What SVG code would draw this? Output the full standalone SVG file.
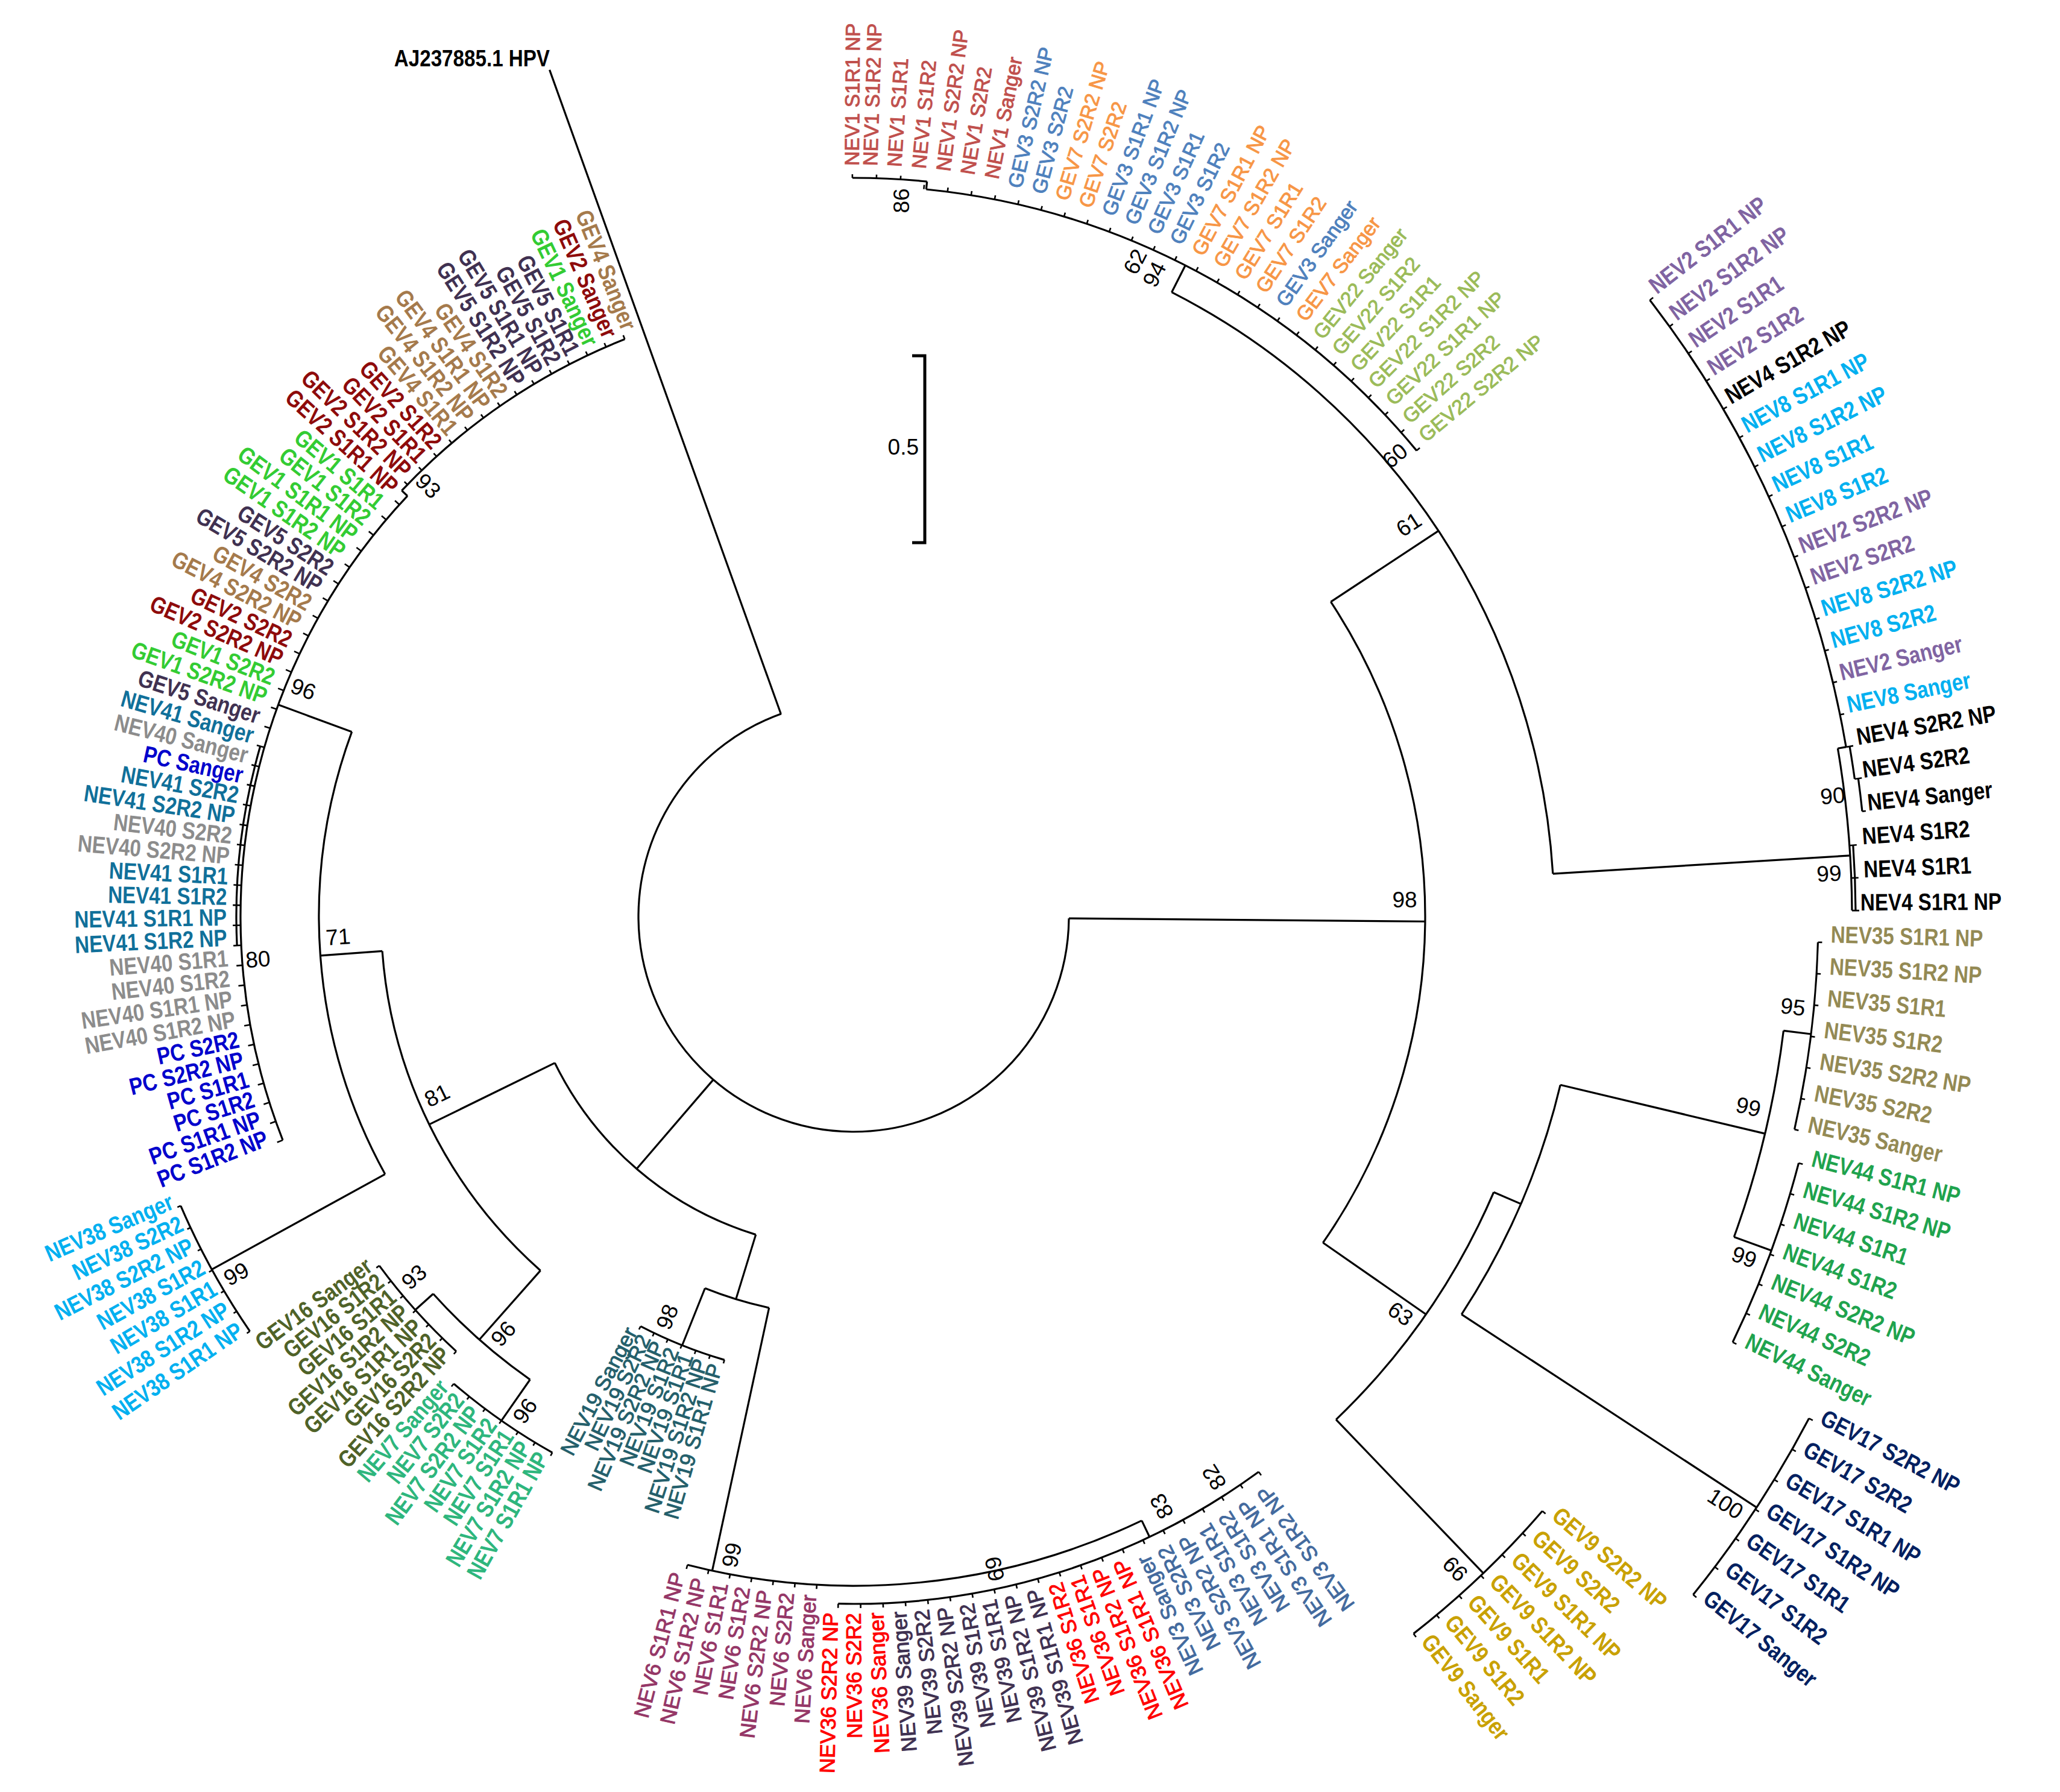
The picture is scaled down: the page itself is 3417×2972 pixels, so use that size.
<svg xmlns="http://www.w3.org/2000/svg" width="3417" height="2972" viewBox="0 0 3417 2972">
<style>
.e{fill:none;stroke:#000;stroke-width:3.2;stroke-linecap:butt}
.k line{stroke-width:2.6}
text{font-family:"Liberation Sans",Arial,sans-serif;fill:currentColor}
.b{font-weight:bold;font-size:39.5px}
.r{font-size:33.5px;stroke:currentColor;stroke-width:1px}
.q{font-size:35px;stroke:currentColor;stroke-width:1px}
.f{text-anchor:end}
.bs{font-size:37px;text-anchor:middle;dominant-baseline:central;fill:#000}
.NEV1{color:#C0504D}.GEV3{color:#4F81BD}.GEV7{color:#F79646}.GEV22{color:#9BBB59}
.NEV2{color:#8064A2}.NEV4{color:#000}.NEV8{color:#00B0F0}.NEV35{color:#948A54}
.NEV44{color:#1FA34E}.GEV17{color:#002060}.GEV9{color:#C9A100}.NEV3{color:#436A9E}
.NEV36{color:#FF0000}.NEV39{color:#3F3151}.NEV6{color:#953767}.NEV19{color:#245F6B}
.NEV7{color:#2EB67D}.GEV16{color:#4F6228}.NEV38{color:#00B0F0}.PC{color:#0000CC}
.NEV40{color:#8C8C8C}.NEV41{color:#10709A}.GEV5{color:#403151}.GEV1{color:#33CC33}
.GEV2{color:#8E0B0B}.GEV4{color:#A57A4C}
</style>
<rect width="3417" height="2972" fill="#fff"/>
<g transform="translate(1416 1520)">
<g id="connectors" class="e">
<circle r="357" stroke-dasharray="1556.1 20000" transform="rotate(0.5)"/>
<circle r="948" stroke-dasharray="1128.4 20000" transform="rotate(-33.4)"/>
<circle r="1162" stroke-dasharray="1206.7 20000" transform="rotate(-63)"/>
<circle r="1212" stroke-dasharray="945.4 20000" transform="rotate(-84.3)"/>
<circle r="1225" stroke-dasharray="124 20000" transform="rotate(-90.1)"/>
<circle r="1656" stroke-dasharray="270.2 20000" transform="rotate(-9.69)"/>
<circle r="1670" stroke-dasharray="817.6 20000" transform="rotate(-37.74)"/>
<circle r="1676" stroke-dasharray="54.7 20000" transform="rotate(-9.69)"/>
<circle r="1682" stroke-dasharray="54.9 20000" transform="rotate(-7.82)"/>
<circle r="1662" stroke-dasharray="108.5 20000" transform="rotate(-4.08)"/>
<circle r="1156" stroke-dasharray="462 20000" transform="rotate(23.3)"/>
<circle r="1205" stroke-dasharray="416.4 20000" transform="rotate(13.4)"/>
<circle r="1554" stroke-dasharray="352.6 20000" transform="rotate(7)"/>
<circle r="1600" stroke-dasharray="313.3 20000" transform="rotate(1.53)"/>
<circle r="1620" stroke-dasharray="317.2 20000" transform="rotate(14.62)"/>
<circle r="1790" stroke-dasharray="350.5 20000" transform="rotate(27.71)"/>
<circle r="1509" stroke-dasharray="295.5 20000" transform="rotate(40.8)"/>
<circle r="552" stroke-dasharray="450.9 20000" transform="rotate(107.1)"/>
<circle r="664" stroke-dasharray="111.3 20000" transform="rotate(102.2)"/>
<circle r="766" stroke-dasharray="150 20000" transform="rotate(106.25)"/>
<circle r="1110" stroke-dasharray="772.6 20000" transform="rotate(64.5)"/>
<circle r="1140" stroke-dasharray="744.1 20000" transform="rotate(53.89)"/>
<circle r="784" stroke-dasharray="606.2 20000" transform="rotate(131.5)"/>
<circle r="887" stroke-dasharray="758.6 20000" transform="rotate(151.2)"/>
<circle r="1215" stroke-dasharray="237.9 20000" transform="rotate(145.52)"/>
<circle r="1017" stroke-dasharray="1148.2 20000" transform="rotate(158.61)"/>
<circle r="1030" stroke-dasharray="450.7 20000" transform="rotate(223.3)"/>
<circle r="1024" stroke-dasharray="334.2 20000" transform="rotate(177.31)"/>
<circle r="937" stroke-dasharray="215.1 20000" transform="rotate(124.95)"/>
<circle r="977" stroke-dasharray="191.3 20000" transform="rotate(132.43)"/>
<circle r="1020" stroke-dasharray="199.7 20000" transform="rotate(119.34)"/>
<line x1="357" x2="1492" transform="rotate(250.24)"/>
<line x1="357" x2="948" transform="rotate(0.5)"/>
<line x1="357" x2="552" transform="rotate(130.7)"/>
<line x1="948" x2="1162" transform="rotate(-33.4)"/>
<line x1="1162" x2="1212" transform="rotate(-63)"/>
<line x1="1212" x2="1225" transform="rotate(-84.3)"/>
<line x1="1162" x2="1656" transform="rotate(-3.5)"/>
<line x1="1656" x2="1670" transform="rotate(-9.69)"/>
<line x1="948" x2="1156" transform="rotate(34.8)"/>
<line x1="1156" x2="1205" transform="rotate(23.3)"/>
<line x1="1205" x2="1554" transform="rotate(13.4)"/>
<line x1="1554" x2="1600" transform="rotate(7)"/>
<line x1="1554" x2="1620" transform="rotate(20)"/>
<line x1="1205" x2="1790" transform="rotate(33.2)"/>
<line x1="1156" x2="1509" transform="rotate(46.2)"/>
<line x1="552" x2="664" transform="rotate(107.1)"/>
<line x1="664" x2="766" transform="rotate(111.8)"/>
<line x1="664" x2="1110" transform="rotate(102.2)"/>
<line x1="1110" x2="1140" transform="rotate(64.5)"/>
<line x1="552" x2="784" transform="rotate(153.9)"/>
<line x1="784" x2="887" transform="rotate(175.8)"/>
<line x1="887" x2="1215" transform="rotate(151.2)"/>
<line x1="887" x2="1017" transform="rotate(200.2)"/>
<line x1="1017" x2="1030" transform="rotate(223.3)"/>
<line x1="784" x2="937" transform="rotate(131.5)"/>
<line x1="937" x2="977" transform="rotate(138.1)"/>
<line x1="937" x2="1020" transform="rotate(124.95)"/>
<g class="k">
<line x1="1225" x2="1231" transform="rotate(-90.1)"/><line x1="1225" x2="1231" transform="rotate(-88.23)"/><line x1="1225" x2="1231" transform="rotate(-86.36)"/>
<line x1="1212" x2="1219" transform="rotate(-84.49)"/><line x1="1212" x2="1219" transform="rotate(-82.62)"/><line x1="1212" x2="1219" transform="rotate(-80.75)"/><line x1="1212" x2="1219" transform="rotate(-78.88)"/><line x1="1212" x2="1219" transform="rotate(-77.01)"/><line x1="1212" x2="1219" transform="rotate(-75.14)"/><line x1="1212" x2="1219" transform="rotate(-73.27)"/><line x1="1212" x2="1219" transform="rotate(-71.4)"/><line x1="1212" x2="1219" transform="rotate(-69.53)"/><line x1="1212" x2="1219" transform="rotate(-67.66)"/><line x1="1212" x2="1219" transform="rotate(-65.79)"/><line x1="1212" x2="1219" transform="rotate(-63.92)"/><line x1="1212" x2="1219" transform="rotate(-62.05)"/><line x1="1212" x2="1219" transform="rotate(-60.18)"/><line x1="1212" x2="1219" transform="rotate(-58.31)"/><line x1="1212" x2="1219" transform="rotate(-56.44)"/><line x1="1212" x2="1219" transform="rotate(-54.57)"/><line x1="1212" x2="1219" transform="rotate(-52.7)"/><line x1="1212" x2="1219" transform="rotate(-50.83)"/><line x1="1212" x2="1219" transform="rotate(-48.96)"/><line x1="1212" x2="1219" transform="rotate(-47.09)"/><line x1="1212" x2="1219" transform="rotate(-45.22)"/><line x1="1212" x2="1219" transform="rotate(-43.35)"/><line x1="1212" x2="1219" transform="rotate(-41.48)"/><line x1="1212" x2="1219" transform="rotate(-39.61)"/>
<line x1="1670" x2="1677" transform="rotate(-37.74)"/><line x1="1670" x2="1677" transform="rotate(-35.87)"/><line x1="1670" x2="1677" transform="rotate(-34)"/><line x1="1670" x2="1677" transform="rotate(-32.13)"/><line x1="1670" x2="1677" transform="rotate(-30.26)"/><line x1="1670" x2="1677" transform="rotate(-28.39)"/><line x1="1670" x2="1677" transform="rotate(-26.52)"/><line x1="1670" x2="1677" transform="rotate(-24.65)"/><line x1="1670" x2="1677" transform="rotate(-22.78)"/><line x1="1670" x2="1677" transform="rotate(-20.91)"/><line x1="1670" x2="1677" transform="rotate(-19.04)"/><line x1="1670" x2="1677" transform="rotate(-17.17)"/><line x1="1670" x2="1677" transform="rotate(-15.3)"/><line x1="1670" x2="1677" transform="rotate(-13.43)"/><line x1="1670" x2="1677" transform="rotate(-11.56)"/>
<line x1="1670" x2="1682" transform="rotate(-9.69)"/><line x1="1676" x2="1688" transform="rotate(-7.82)"/><line x1="1682" x2="1688" transform="rotate(-5.95)"/><line x1="1656" x2="1668" transform="rotate(-4.08)"/><line x1="1656" x2="1668" transform="rotate(-2.21)"/><line x1="1656" x2="1668" transform="rotate(-0.34)"/>
<line x1="1600" x2="1607" transform="rotate(1.53)"/><line x1="1600" x2="1607" transform="rotate(3.4)"/><line x1="1600" x2="1607" transform="rotate(5.27)"/><line x1="1600" x2="1607" transform="rotate(7.14)"/><line x1="1600" x2="1607" transform="rotate(9.01)"/><line x1="1600" x2="1607" transform="rotate(10.88)"/><line x1="1600" x2="1607" transform="rotate(12.75)"/>
<line x1="1620" x2="1627" transform="rotate(14.62)"/><line x1="1620" x2="1627" transform="rotate(16.49)"/><line x1="1620" x2="1627" transform="rotate(18.36)"/><line x1="1620" x2="1627" transform="rotate(20.23)"/><line x1="1620" x2="1627" transform="rotate(22.1)"/><line x1="1620" x2="1627" transform="rotate(23.97)"/><line x1="1620" x2="1627" transform="rotate(25.84)"/>
<line x1="1790" x2="1797" transform="rotate(27.71)"/><line x1="1790" x2="1797" transform="rotate(29.58)"/><line x1="1790" x2="1797" transform="rotate(31.45)"/><line x1="1790" x2="1797" transform="rotate(33.32)"/><line x1="1790" x2="1797" transform="rotate(35.19)"/><line x1="1790" x2="1797" transform="rotate(37.06)"/><line x1="1790" x2="1797" transform="rotate(38.93)"/>
<line x1="1509" x2="1516" transform="rotate(40.8)"/><line x1="1509" x2="1516" transform="rotate(42.67)"/><line x1="1509" x2="1516" transform="rotate(44.54)"/><line x1="1509" x2="1516" transform="rotate(46.41)"/><line x1="1509" x2="1516" transform="rotate(48.28)"/><line x1="1509" x2="1516" transform="rotate(50.15)"/><line x1="1509" x2="1516" transform="rotate(52.02)"/>
<line x1="1140" x2="1147" transform="rotate(53.89)"/><line x1="1140" x2="1147" transform="rotate(55.76)"/><line x1="1140" x2="1147" transform="rotate(57.63)"/><line x1="1140" x2="1147" transform="rotate(59.5)"/><line x1="1140" x2="1147" transform="rotate(61.37)"/><line x1="1140" x2="1147" transform="rotate(63.24)"/><line x1="1140" x2="1147" transform="rotate(65.11)"/><line x1="1140" x2="1147" transform="rotate(66.98)"/><line x1="1140" x2="1147" transform="rotate(68.85)"/><line x1="1140" x2="1147" transform="rotate(70.72)"/><line x1="1140" x2="1147" transform="rotate(72.59)"/><line x1="1140" x2="1147" transform="rotate(74.46)"/><line x1="1140" x2="1147" transform="rotate(76.33)"/><line x1="1140" x2="1147" transform="rotate(78.2)"/><line x1="1140" x2="1147" transform="rotate(80.07)"/><line x1="1140" x2="1147" transform="rotate(81.94)"/><line x1="1140" x2="1147" transform="rotate(83.81)"/><line x1="1140" x2="1147" transform="rotate(85.68)"/><line x1="1140" x2="1147" transform="rotate(87.55)"/><line x1="1140" x2="1147" transform="rotate(89.42)"/><line x1="1140" x2="1147" transform="rotate(91.29)"/>
<line x1="1110" x2="1117" transform="rotate(93.16)"/><line x1="1110" x2="1117" transform="rotate(95.03)"/><line x1="1110" x2="1117" transform="rotate(96.9)"/><line x1="1110" x2="1117" transform="rotate(98.77)"/><line x1="1110" x2="1117" transform="rotate(100.64)"/><line x1="1110" x2="1117" transform="rotate(102.51)"/><line x1="1110" x2="1117" transform="rotate(104.38)"/>
<line x1="766" x2="772" transform="rotate(106.25)"/><line x1="766" x2="772" transform="rotate(108.12)"/><line x1="766" x2="772" transform="rotate(109.99)"/><line x1="766" x2="772" transform="rotate(111.86)"/><line x1="766" x2="772" transform="rotate(113.73)"/><line x1="766" x2="772" transform="rotate(115.6)"/><line x1="766" x2="772" transform="rotate(117.47)"/>
<line x1="1020" x2="1026" transform="rotate(119.34)"/><line x1="1020" x2="1026" transform="rotate(121.21)"/><line x1="1020" x2="1026" transform="rotate(123.08)"/><line x1="1020" x2="1026" transform="rotate(124.95)"/><line x1="1020" x2="1026" transform="rotate(126.82)"/><line x1="1020" x2="1026" transform="rotate(128.69)"/><line x1="1020" x2="1026" transform="rotate(130.56)"/>
<line x1="977" x2="983" transform="rotate(132.43)"/><line x1="977" x2="983" transform="rotate(134.3)"/><line x1="977" x2="983" transform="rotate(136.17)"/><line x1="977" x2="983" transform="rotate(138.04)"/><line x1="977" x2="983" transform="rotate(139.91)"/><line x1="977" x2="983" transform="rotate(141.78)"/><line x1="977" x2="983" transform="rotate(143.65)"/>
<line x1="1215" x2="1221" transform="rotate(145.52)"/><line x1="1215" x2="1221" transform="rotate(147.39)"/><line x1="1215" x2="1221" transform="rotate(149.26)"/><line x1="1215" x2="1221" transform="rotate(151.13)"/><line x1="1215" x2="1221" transform="rotate(153)"/><line x1="1215" x2="1221" transform="rotate(154.87)"/><line x1="1215" x2="1221" transform="rotate(156.74)"/>
<line x1="1017" x2="1027" transform="rotate(158.61)"/><line x1="1017" x2="1027" transform="rotate(160.48)"/><line x1="1017" x2="1027" transform="rotate(162.35)"/><line x1="1017" x2="1027" transform="rotate(164.22)"/><line x1="1017" x2="1027" transform="rotate(166.09)"/><line x1="1017" x2="1027" transform="rotate(167.96)"/><line x1="1017" x2="1027" transform="rotate(169.83)"/><line x1="1017" x2="1027" transform="rotate(171.7)"/><line x1="1017" x2="1027" transform="rotate(173.57)"/><line x1="1017" x2="1027" transform="rotate(175.44)"/><line x1="1017" x2="1030" transform="rotate(177.31)"/><line x1="1017" x2="1030" transform="rotate(179.18)"/><line x1="1017" x2="1030" transform="rotate(181.05)"/><line x1="1017" x2="1030" transform="rotate(182.92)"/><line x1="1017" x2="1030" transform="rotate(184.79)"/><line x1="1017" x2="1030" transform="rotate(186.66)"/><line x1="1017" x2="1030" transform="rotate(188.53)"/><line x1="1017" x2="1030" transform="rotate(190.4)"/><line x1="1017" x2="1030" transform="rotate(192.27)"/><line x1="1017" x2="1030" transform="rotate(194.14)"/><line x1="1017" x2="1030" transform="rotate(196.01)"/><line x1="1017" x2="1027" transform="rotate(197.88)"/><line x1="1017" x2="1027" transform="rotate(199.75)"/><line x1="1017" x2="1027" transform="rotate(201.62)"/><line x1="1017" x2="1027" transform="rotate(203.49)"/><line x1="1017" x2="1027" transform="rotate(205.36)"/><line x1="1017" x2="1027" transform="rotate(207.23)"/><line x1="1017" x2="1027" transform="rotate(209.1)"/><line x1="1017" x2="1027" transform="rotate(210.97)"/><line x1="1017" x2="1027" transform="rotate(212.84)"/><line x1="1017" x2="1027" transform="rotate(214.71)"/><line x1="1017" x2="1027" transform="rotate(216.58)"/><line x1="1017" x2="1027" transform="rotate(218.45)"/><line x1="1017" x2="1027" transform="rotate(220.32)"/><line x1="1017" x2="1027" transform="rotate(222.19)"/><line x1="1030" x2="1037" transform="rotate(224.06)"/><line x1="1030" x2="1037" transform="rotate(225.93)"/><line x1="1030" x2="1037" transform="rotate(227.8)"/><line x1="1030" x2="1037" transform="rotate(229.67)"/><line x1="1030" x2="1037" transform="rotate(231.54)"/><line x1="1030" x2="1037" transform="rotate(233.41)"/><line x1="1030" x2="1037" transform="rotate(235.28)"/><line x1="1030" x2="1037" transform="rotate(237.15)"/><line x1="1030" x2="1037" transform="rotate(239.02)"/><line x1="1030" x2="1037" transform="rotate(240.89)"/><line x1="1030" x2="1037" transform="rotate(242.76)"/><line x1="1030" x2="1037" transform="rotate(244.63)"/><line x1="1030" x2="1037" transform="rotate(246.5)"/><line x1="1030" x2="1037" transform="rotate(248.37)"/>
</g>
</g>
<g id="leaves">
<g id="NEV1_S1R1_NP"><text class="r NEV1" transform="rotate(-89.6) translate(1245 0)">NEV1 S1R1 NP</text></g>
<g id="NEV1_S1R2_NP"><text class="r NEV1" transform="rotate(-88.2) translate(1245 0)">NEV1 S1R2 NP</text></g>
<g id="NEV1_S1R1"><text class="r NEV1" transform="rotate(-86.36) translate(1245 0)">NEV1 S1R1</text></g>
<g id="NEV1_S1R2"><text class="r NEV1" transform="rotate(-84.49) translate(1245 0)">NEV1 S1R2</text></g>
<g id="NEV1_S2R2_NP"><text class="r NEV1" transform="rotate(-82.62) translate(1245 0)">NEV1 S2R2 NP</text></g>
<g id="NEV1_S2R2"><text class="r NEV1" transform="rotate(-80.75) translate(1245 0)">NEV1 S2R2</text></g>
<g id="NEV1_Sanger"><text class="r NEV1" transform="rotate(-78.88) translate(1245 0)">NEV1 Sanger</text></g>
<g id="GEV3_S2R2_NP"><text class="r GEV3" transform="rotate(-77.01) translate(1238 0)">GEV3 S2R2 NP</text></g>
<g id="GEV3_S2R2"><text class="r GEV3" transform="rotate(-75.14) translate(1238 0)">GEV3 S2R2</text></g>
<g id="GEV7_S2R2_NP"><text class="r GEV7" transform="rotate(-73.27) translate(1238 0)">GEV7 S2R2 NP</text></g>
<g id="GEV7_S2R2"><text class="r GEV7" transform="rotate(-71.4) translate(1238 0)">GEV7 S2R2</text></g>
<g id="GEV3_S1R1_NP"><text class="r GEV3" transform="rotate(-69.53) translate(1238 0)">GEV3 S1R1 NP</text></g>
<g id="GEV3_S1R2_NP"><text class="r GEV3" transform="rotate(-67.66) translate(1238 0)">GEV3 S1R2 NP</text></g>
<g id="GEV3_S1R1"><text class="r GEV3" transform="rotate(-65.79) translate(1238 0)">GEV3 S1R1</text></g>
<g id="GEV3_S1R2"><text class="r GEV3" transform="rotate(-63.92) translate(1238 0)">GEV3 S1R2</text></g>
<g id="GEV7_S1R1_NP"><text class="r GEV7" transform="rotate(-62.05) translate(1238 0)">GEV7 S1R1 NP</text></g>
<g id="GEV7_S1R2_NP"><text class="r GEV7" transform="rotate(-60.18) translate(1238 0)">GEV7 S1R2 NP</text></g>
<g id="GEV7_S1R1"><text class="r GEV7" transform="rotate(-58.31) translate(1238 0)">GEV7 S1R1</text></g>
<g id="GEV7_S1R2"><text class="r GEV7" transform="rotate(-56.44) translate(1238 0)">GEV7 S1R2</text></g>
<g id="GEV3_Sanger"><text class="r GEV3" transform="rotate(-54.57) translate(1238 0)">GEV3 Sanger</text></g>
<g id="GEV7_Sanger"><text class="r GEV7" transform="rotate(-52.7) translate(1238 0)">GEV7 Sanger</text></g>
<g id="GEV22_Sanger"><text class="r GEV22" transform="rotate(-50.83) translate(1232 0)">GEV22 Sanger</text></g>
<g id="GEV22_S1R2"><text class="r GEV22" transform="rotate(-48.96) translate(1232 0)">GEV22 S1R2</text></g>
<g id="GEV22_S1R1"><text class="r GEV22" transform="rotate(-47.09) translate(1232 0)">GEV22 S1R1</text></g>
<g id="GEV22_S1R2_NP"><text class="r GEV22" transform="rotate(-45.22) translate(1232 0)">GEV22 S1R2 NP</text></g>
<g id="GEV22_S1R1_NP"><text class="r GEV22" transform="rotate(-43.35) translate(1232 0)">GEV22 S1R1 NP</text></g>
<g id="GEV22_S2R2"><text class="r GEV22" transform="rotate(-41.48) translate(1232 0)">GEV22 S2R2</text></g>
<g id="GEV22_S2R2_NP"><text class="r GEV22" transform="rotate(-39.61) translate(1232 0)">GEV22 S2R2 NP</text></g>
<g id="NEV2_S1R1_NP"><text class="b NEV2" transform="rotate(-37.74) translate(1685 0) scale(.84 1)">NEV2 S1R1 NP</text></g>
<g id="NEV2_S1R2_NP"><text class="b NEV2" transform="rotate(-35.87) translate(1685 0) scale(.84 1)">NEV2 S1R2 NP</text></g>
<g id="NEV2_S1R1"><text class="b NEV2" transform="rotate(-34) translate(1685 0) scale(.84 1)">NEV2 S1R1</text></g>
<g id="NEV2_S1R2"><text class="b NEV2" transform="rotate(-32.13) translate(1685 0) scale(.84 1)">NEV2 S1R2</text></g>
<g id="NEV4_S1R2_NP"><text class="b NEV4" transform="rotate(-30.26) translate(1685 0) scale(.84 1)">NEV4 S1R2 NP</text></g>
<g id="NEV8_S1R1_NP"><text class="b NEV8" transform="rotate(-28.39) translate(1685 0) scale(.84 1)">NEV8 S1R1 NP</text></g>
<g id="NEV8_S1R2_NP"><text class="b NEV8" transform="rotate(-26.52) translate(1685 0) scale(.84 1)">NEV8 S1R2 NP</text></g>
<g id="NEV8_S1R1"><text class="b NEV8" transform="rotate(-24.65) translate(1685 0) scale(.84 1)">NEV8 S1R1</text></g>
<g id="NEV8_S1R2"><text class="b NEV8" transform="rotate(-22.78) translate(1685 0) scale(.84 1)">NEV8 S1R2</text></g>
<g id="NEV2_S2R2_NP"><text class="b NEV2" transform="rotate(-20.91) translate(1685 0) scale(.84 1)">NEV2 S2R2 NP</text></g>
<g id="NEV2_S2R2"><text class="b NEV2" transform="rotate(-19.04) translate(1685 0) scale(.84 1)">NEV2 S2R2</text></g>
<g id="NEV8_S2R2_NP"><text class="b NEV8" transform="rotate(-17.17) translate(1685 0) scale(.84 1)">NEV8 S2R2 NP</text></g>
<g id="NEV8_S2R2"><text class="b NEV8" transform="rotate(-15.3) translate(1685 0) scale(.84 1)">NEV8 S2R2</text></g>
<g id="NEV2_Sanger"><text class="b NEV2" transform="rotate(-13.43) translate(1685 0) scale(.84 1)">NEV2 Sanger</text></g>
<g id="NEV8_Sanger"><text class="b NEV8" transform="rotate(-11.56) translate(1685 0) scale(.84 1)">NEV8 Sanger</text></g>
<g id="NEV4_S2R2_NP"><text class="b NEV4" transform="rotate(-9.69) translate(1690 0) scale(.84 1)">NEV4 S2R2 NP</text></g>
<g id="NEV4_S2R2"><text class="b NEV4" transform="rotate(-7.82) translate(1691 0) scale(.84 1)">NEV4 S2R2</text></g>
<g id="NEV4_Sanger"><text class="b NEV4" transform="rotate(-5.95) translate(1692 0) scale(.84 1)">NEV4 Sanger</text></g>
<g id="NEV4_S1R2"><text class="b NEV4" transform="rotate(-4.08) translate(1678 0) scale(.84 1)">NEV4 S1R2</text></g>
<g id="NEV4_S1R1"><text class="b NEV4" transform="rotate(-2.21) translate(1677 0) scale(.84 1)">NEV4 S1R1</text></g>
<g id="NEV4_S1R1_NP"><text class="b NEV4" transform="rotate(-0.34) translate(1670 0) scale(.84 1)">NEV4 S1R1 NP</text></g>
<g id="NEV35_S1R1_NP"><text class="b NEV35" transform="rotate(1.53) translate(1621 0) scale(.84 1)">NEV35 S1R1 NP</text></g>
<g id="NEV35_S1R2_NP"><text class="b NEV35" transform="rotate(3.4) translate(1621 0) scale(.84 1)">NEV35 S1R2 NP</text></g>
<g id="NEV35_S1R1"><text class="b NEV35" transform="rotate(5.27) translate(1621 0) scale(.84 1)">NEV35 S1R1</text></g>
<g id="NEV35_S1R2"><text class="b NEV35" transform="rotate(7.14) translate(1621 0) scale(.84 1)">NEV35 S1R2</text></g>
<g id="NEV35_S2R2_NP"><text class="b NEV35" transform="rotate(9.01) translate(1621 0) scale(.84 1)">NEV35 S2R2 NP</text></g>
<g id="NEV35_S2R2"><text class="b NEV35" transform="rotate(10.88) translate(1621 0) scale(.84 1)">NEV35 S2R2</text></g>
<g id="NEV35_Sanger"><text class="b NEV35" transform="rotate(12.75) translate(1621 0) scale(.84 1)">NEV35 Sanger</text></g>
<g id="NEV44_S1R1_NP"><text class="b NEV44" transform="rotate(14.62) translate(1640 0) scale(.84 1)">NEV44 S1R1 NP</text></g>
<g id="NEV44_S1R2_NP"><text class="b NEV44" transform="rotate(16.49) translate(1640 0) scale(.84 1)">NEV44 S1R2 NP</text></g>
<g id="NEV44_S1R1"><text class="b NEV44" transform="rotate(18.36) translate(1640 0) scale(.84 1)">NEV44 S1R1</text></g>
<g id="NEV44_S1R2"><text class="b NEV44" transform="rotate(20.23) translate(1640 0) scale(.84 1)">NEV44 S1R2</text></g>
<g id="NEV44_S2R2_NP"><text class="b NEV44" transform="rotate(22.1) translate(1640 0) scale(.84 1)">NEV44 S2R2 NP</text></g>
<g id="NEV44_S2R2"><text class="b NEV44" transform="rotate(23.97) translate(1640 0) scale(.84 1)">NEV44 S2R2</text></g>
<g id="NEV44_Sanger"><text class="b NEV44" transform="rotate(25.84) translate(1640 0) scale(.84 1)">NEV44 Sanger</text></g>
<g id="GEV17_S2R2_NP"><text class="b GEV17" transform="rotate(27.71) translate(1808 0) scale(.84 1)">GEV17 S2R2 NP</text></g>
<g id="GEV17_S2R2"><text class="b GEV17" transform="rotate(29.58) translate(1808 0) scale(.84 1)">GEV17 S2R2</text></g>
<g id="GEV17_S1R1_NP"><text class="b GEV17" transform="rotate(31.45) translate(1808 0) scale(.84 1)">GEV17 S1R1 NP</text></g>
<g id="GEV17_S1R2_NP"><text class="b GEV17" transform="rotate(33.32) translate(1808 0) scale(.84 1)">GEV17 S1R2 NP</text></g>
<g id="GEV17_S1R1"><text class="b GEV17" transform="rotate(35.19) translate(1808 0) scale(.84 1)">GEV17 S1R1</text></g>
<g id="GEV17_S1R2"><text class="b GEV17" transform="rotate(37.06) translate(1808 0) scale(.84 1)">GEV17 S1R2</text></g>
<g id="GEV17_Sanger"><text class="b GEV17" transform="rotate(38.93) translate(1808 0) scale(.84 1)">GEV17 Sanger</text></g>
<g id="GEV9_S2R2_NP"><text class="b GEV9" transform="rotate(40.8) translate(1527 0) scale(.84 1)">GEV9 S2R2 NP</text></g>
<g id="GEV9_S2R2"><text class="b GEV9" transform="rotate(42.67) translate(1527 0) scale(.84 1)">GEV9 S2R2</text></g>
<g id="GEV9_S1R1_NP"><text class="b GEV9" transform="rotate(44.54) translate(1527 0) scale(.84 1)">GEV9 S1R1 NP</text></g>
<g id="GEV9_S1R2_NP"><text class="b GEV9" transform="rotate(46.41) translate(1527 0) scale(.84 1)">GEV9 S1R2 NP</text></g>
<g id="GEV9_S1R1"><text class="b GEV9" transform="rotate(48.28) translate(1527 0) scale(.84 1)">GEV9 S1R1</text></g>
<g id="GEV9_S1R2"><text class="b GEV9" transform="rotate(50.15) translate(1527 0) scale(.84 1)">GEV9 S1R2</text></g>
<g id="GEV9_Sanger"><text class="b GEV9" transform="rotate(52.02) translate(1527 0) scale(.84 1)">GEV9 Sanger</text></g>
<g id="NEV3_S1R2_NP"><text class="q f NEV3" transform="rotate(-126.11) translate(-1165 0)">NEV3 S1R2 NP</text></g>
<g id="NEV3_S1R1_NP"><text class="q f NEV3" transform="rotate(-124.24) translate(-1165 0)">NEV3 S1R1 NP</text></g>
<g id="NEV3_S1R2"><text class="q f NEV3" transform="rotate(-122.37) translate(-1165 0)">NEV3 S1R2</text></g>
<g id="NEV3_S1R1"><text class="q f NEV3" transform="rotate(-120.5) translate(-1165 0)">NEV3 S1R1</text></g>
<g id="NEV3_S2R2_NP"><text class="q f NEV3" transform="rotate(-118.63) translate(-1165 0)">NEV3 S2R2 NP</text></g>
<g id="NEV3_S2R2"><text class="q f NEV3" transform="rotate(-116.76) translate(-1165 0)">NEV3 S2R2</text></g>
<g id="NEV3_Sanger"><text class="q f NEV3" transform="rotate(-114.89) translate(-1165 0)">NEV3 Sanger</text></g>
<g id="NEV36_S1R1_NP"><text class="q f NEV36" transform="rotate(-113.02) translate(-1155 0)">NEV36 S1R1 NP</text></g>
<g id="NEV36_S1R2_NP"><text class="q f NEV36" transform="rotate(-111.15) translate(-1155 0)">NEV36 S1R2 NP</text></g>
<g id="NEV36_S1R1"><text class="q f NEV36" transform="rotate(-109.28) translate(-1155 0)">NEV36 S1R1</text></g>
<g id="NEV36_S1R2"><text class="q f NEV36" transform="rotate(-107.41) translate(-1155 0)">NEV36 S1R2</text></g>
<g id="NEV39_S1R1_NP"><text class="q f NEV39" transform="rotate(-105.54) translate(-1155 0)">NEV39 S1R1 NP</text></g>
<g id="NEV39_S1R2_NP"><text class="q f NEV39" transform="rotate(-103.67) translate(-1155 0)">NEV39 S1R2 NP</text></g>
<g id="NEV39_S1R1"><text class="q f NEV39" transform="rotate(-101.8) translate(-1155 0)">NEV39 S1R1</text></g>
<g id="NEV39_S1R2"><text class="q f NEV39" transform="rotate(-99.93) translate(-1155 0)">NEV39 S1R2</text></g>
<g id="NEV39_S2R2_NP"><text class="q f NEV39" transform="rotate(-98.06) translate(-1155 0)">NEV39 S2R2 NP</text></g>
<g id="NEV39_S2R2"><text class="q f NEV39" transform="rotate(-96.19) translate(-1155 0)">NEV39 S2R2</text></g>
<g id="NEV39_Sanger"><text class="q f NEV39" transform="rotate(-94.32) translate(-1155 0)">NEV39 Sanger</text></g>
<g id="NEV36_Sanger"><text class="q f NEV36" transform="rotate(-92.45) translate(-1155 0)">NEV36 Sanger</text></g>
<g id="NEV36_S2R2"><text class="q f NEV36" transform="rotate(-90.58) translate(-1155 0)">NEV36 S2R2</text></g>
<g id="NEV36_S2R2_NP"><text class="q f NEV36" transform="rotate(-88.71) translate(-1155 0)">NEV36 S2R2 NP</text></g>
<g id="NEV6_Sanger"><text class="q f NEV6" transform="rotate(-86.84) translate(-1127 0)">NEV6 Sanger</text></g>
<g id="NEV6_S2R2"><text class="q f NEV6" transform="rotate(-84.97) translate(-1127 0)">NEV6 S2R2</text></g>
<g id="NEV6_S2R2_NP"><text class="q f NEV6" transform="rotate(-83.1) translate(-1127 0)">NEV6 S2R2 NP</text></g>
<g id="NEV6_S1R2"><text class="q f NEV6" transform="rotate(-81.23) translate(-1127 0)">NEV6 S1R2</text></g>
<g id="NEV6_S1R1"><text class="q f NEV6" transform="rotate(-79.36) translate(-1127 0)">NEV6 S1R1</text></g>
<g id="NEV6_S1R2_NP"><text class="q f NEV6" transform="rotate(-77.49) translate(-1127 0)">NEV6 S1R2 NP</text></g>
<g id="NEV6_S1R1_NP"><text class="q f NEV6" transform="rotate(-75.62) translate(-1127 0)">NEV6 S1R1 NP</text></g>
<g id="NEV19_S1R1_NP"><text class="q f NEV19" transform="rotate(-73.75) translate(-777 0)">NEV19 S1R1 NP</text></g>
<g id="NEV19_S1R2_NP"><text class="q f NEV19" transform="rotate(-71.88) translate(-777 0)">NEV19 S1R2 NP</text></g>
<g id="NEV19_S1R1"><text class="q f NEV19" transform="rotate(-70.01) translate(-777 0)">NEV19 S1R1</text></g>
<g id="NEV19_S1R2"><text class="q f NEV19" transform="rotate(-68.14) translate(-777 0)">NEV19 S1R2</text></g>
<g id="NEV19_S2R2_NP"><text class="q f NEV19" transform="rotate(-66.27) translate(-777 0)">NEV19 S2R2 NP</text></g>
<g id="NEV19_S2R2"><text class="q f NEV19" transform="rotate(-64.4) translate(-777 0)">NEV19 S2R2</text></g>
<g id="NEV19_Sanger"><text class="q f NEV19" transform="rotate(-62.53) translate(-777 0)">NEV19 Sanger</text></g>
<g id="NEV7_S1R1_NP"><text class="b f NEV7" transform="rotate(-60.66) translate(-1030 0) scale(.84 1)">NEV7 S1R1 NP</text></g>
<g id="NEV7_S1R2_NP"><text class="b f NEV7" transform="rotate(-58.79) translate(-1030 0) scale(.84 1)">NEV7 S1R2 NP</text></g>
<g id="NEV7_S1R1"><text class="b f NEV7" transform="rotate(-56.92) translate(-1030 0) scale(.84 1)">NEV7 S1R1</text></g>
<g id="NEV7_S1R2"><text class="b f NEV7" transform="rotate(-55.05) translate(-1030 0) scale(.84 1)">NEV7 S1R2</text></g>
<g id="NEV7_S2R2_NP"><text class="b f NEV7" transform="rotate(-53.18) translate(-1030 0) scale(.84 1)">NEV7 S2R2 NP</text></g>
<g id="NEV7_S2R2"><text class="b f NEV7" transform="rotate(-51.31) translate(-1030 0) scale(.84 1)">NEV7 S2R2</text></g>
<g id="NEV7_Sanger"><text class="b f NEV7" transform="rotate(-49.44) translate(-1030 0) scale(.84 1)">NEV7 Sanger</text></g>
<g id="GEV16_S2R2_NP"><text class="b f GEV16" transform="rotate(-47.57) translate(-988 0) scale(.84 1)">GEV16 S2R2 NP</text></g>
<g id="GEV16_S2R2"><text class="b f GEV16" transform="rotate(-45.7) translate(-988 0) scale(.84 1)">GEV16 S2R2</text></g>
<g id="GEV16_S1R1_NP"><text class="b f GEV16" transform="rotate(-43.83) translate(-988 0) scale(.84 1)">GEV16 S1R1 NP</text></g>
<g id="GEV16_S1R2_NP"><text class="b f GEV16" transform="rotate(-41.96) translate(-988 0) scale(.84 1)">GEV16 S1R2 NP</text></g>
<g id="GEV16_S1R1"><text class="b f GEV16" transform="rotate(-40.09) translate(-988 0) scale(.84 1)">GEV16 S1R1</text></g>
<g id="GEV16_S1R2"><text class="b f GEV16" transform="rotate(-38.22) translate(-988 0) scale(.84 1)">GEV16 S1R2</text></g>
<g id="GEV16_Sanger"><text class="b f GEV16" transform="rotate(-36.35) translate(-988 0) scale(.84 1)">GEV16 Sanger</text></g>
<g id="NEV38_S1R1_NP"><text class="b f NEV38" transform="rotate(-34.48) translate(-1225 0) scale(.84 1)">NEV38 S1R1 NP</text></g>
<g id="NEV38_S1R2_NP"><text class="b f NEV38" transform="rotate(-32.61) translate(-1225 0) scale(.84 1)">NEV38 S1R2 NP</text></g>
<g id="NEV38_S1R1"><text class="b f NEV38" transform="rotate(-30.74) translate(-1225 0) scale(.84 1)">NEV38 S1R1</text></g>
<g id="NEV38_S1R2"><text class="b f NEV38" transform="rotate(-28.87) translate(-1225 0) scale(.84 1)">NEV38 S1R2</text></g>
<g id="NEV38_S2R2_NP"><text class="b f NEV38" transform="rotate(-27) translate(-1225 0) scale(.84 1)">NEV38 S2R2 NP</text></g>
<g id="NEV38_S2R2"><text class="b f NEV38" transform="rotate(-25.13) translate(-1225 0) scale(.84 1)">NEV38 S2R2</text></g>
<g id="NEV38_Sanger"><text class="b f NEV38" transform="rotate(-23.26) translate(-1225 0) scale(.84 1)">NEV38 Sanger</text></g>
<g id="PC_S1R2_NP"><text class="b f PC" transform="rotate(-21.39) translate(-1040 0) scale(.84 1)">PC S1R2 NP</text></g>
<g id="PC_S1R1_NP"><text class="b f PC" transform="rotate(-19.52) translate(-1040 0) scale(.84 1)">PC S1R1 NP</text></g>
<g id="PC_S1R2"><text class="b f PC" transform="rotate(-17.65) translate(-1040 0) scale(.84 1)">PC S1R2</text></g>
<g id="PC_S1R1"><text class="b f PC" transform="rotate(-15.78) translate(-1040 0) scale(.84 1)">PC S1R1</text></g>
<g id="PC_S2R2_NP"><text class="b f PC" transform="rotate(-13.91) translate(-1040 0) scale(.84 1)">PC S2R2 NP</text></g>
<g id="PC_S2R2"><text class="b f PC" transform="rotate(-12.04) translate(-1040 0) scale(.84 1)">PC S2R2</text></g>
<g id="NEV40_S1R2_NP"><text class="b f NEV40" transform="rotate(-10.17) translate(-1040 0) scale(.84 1)">NEV40 S1R2 NP</text></g>
<g id="NEV40_S1R1_NP"><text class="b f NEV40" transform="rotate(-8.3) translate(-1040 0) scale(.84 1)">NEV40 S1R1 NP</text></g>
<g id="NEV40_S1R2"><text class="b f NEV40" transform="rotate(-6.43) translate(-1040 0) scale(.84 1)">NEV40 S1R2</text></g>
<g id="NEV40_S1R1"><text class="b f NEV40" transform="rotate(-4.56) translate(-1040 0) scale(.84 1)">NEV40 S1R1</text></g>
<g id="NEV41_S1R2_NP"><text class="b f NEV41" transform="rotate(-2.69) translate(-1040 0) scale(.84 1)">NEV41 S1R2 NP</text></g>
<g id="NEV41_S1R1_NP"><text class="b f NEV41" transform="rotate(-0.82) translate(-1040 0) scale(.84 1)">NEV41 S1R1 NP</text></g>
<g id="NEV41_S1R2"><text class="b f NEV41" transform="rotate(1.05) translate(-1040 0) scale(.84 1)">NEV41 S1R2</text></g>
<g id="NEV41_S1R1"><text class="b f NEV41" transform="rotate(2.92) translate(-1040 0) scale(.84 1)">NEV41 S1R1</text></g>
<g id="NEV40_S2R2_NP"><text class="b f NEV40" transform="rotate(4.79) translate(-1040 0) scale(.84 1)">NEV40 S2R2 NP</text></g>
<g id="NEV40_S2R2"><text class="b f NEV40" transform="rotate(6.66) translate(-1040 0) scale(.84 1)">NEV40 S2R2</text></g>
<g id="NEV41_S2R2_NP"><text class="b f NEV41" transform="rotate(8.53) translate(-1040 0) scale(.84 1)">NEV41 S2R2 NP</text></g>
<g id="NEV41_S2R2"><text class="b f NEV41" transform="rotate(10.4) translate(-1040 0) scale(.84 1)">NEV41 S2R2</text></g>
<g id="PC_Sanger"><text class="b f PC" transform="rotate(12.27) translate(-1040 0) scale(.84 1)">PC Sanger</text></g>
<g id="NEV40_Sanger"><text class="b f NEV40" transform="rotate(14.14) translate(-1040 0) scale(.84 1)">NEV40 Sanger</text></g>
<g id="NEV41_Sanger"><text class="b f NEV41" transform="rotate(16.01) translate(-1040 0) scale(.84 1)">NEV41 Sanger</text></g>
<g id="GEV5_Sanger"><text class="b f GEV5" transform="rotate(17.88) translate(-1040 0) scale(.84 1)">GEV5 Sanger</text></g>
<g id="GEV1_S2R2_NP"><text class="b f GEV1" transform="rotate(19.75) translate(-1040 0) scale(.84 1)">GEV1 S2R2 NP</text></g>
<g id="GEV1_S2R2"><text class="b f GEV1" transform="rotate(21.62) translate(-1040 0) scale(.84 1)">GEV1 S2R2</text></g>
<g id="GEV2_S2R2_NP"><text class="b f GEV2" transform="rotate(23.49) translate(-1040 0) scale(.84 1)">GEV2 S2R2 NP</text></g>
<g id="GEV2_S2R2"><text class="b f GEV2" transform="rotate(25.36) translate(-1040 0) scale(.84 1)">GEV2 S2R2</text></g>
<g id="GEV4_S2R2_NP"><text class="b f GEV4" transform="rotate(27.23) translate(-1040 0) scale(.84 1)">GEV4 S2R2 NP</text></g>
<g id="GEV4_S2R2"><text class="b f GEV4" transform="rotate(29.1) translate(-1040 0) scale(.84 1)">GEV4 S2R2</text></g>
<g id="GEV5_S2R2_NP"><text class="b f GEV5" transform="rotate(30.97) translate(-1040 0) scale(.84 1)">GEV5 S2R2 NP</text></g>
<g id="GEV5_S2R2"><text class="b f GEV5" transform="rotate(32.84) translate(-1040 0) scale(.84 1)">GEV5 S2R2</text></g>
<g id="GEV1_S1R2_NP"><text class="b f GEV1" transform="rotate(34.71) translate(-1040 0) scale(.84 1)">GEV1 S1R2 NP</text></g>
<g id="GEV1_S1R1_NP"><text class="b f GEV1" transform="rotate(36.58) translate(-1040 0) scale(.84 1)">GEV1 S1R1 NP</text></g>
<g id="GEV1_S1R2"><text class="b f GEV1" transform="rotate(38.45) translate(-1040 0) scale(.84 1)">GEV1 S1R2</text></g>
<g id="GEV1_S1R1"><text class="b f GEV1" transform="rotate(40.32) translate(-1040 0) scale(.84 1)">GEV1 S1R1</text></g>
<g id="GEV2_S1R1_NP"><text class="b f GEV2" transform="rotate(42.19) translate(-1040 0) scale(.84 1)">GEV2 S1R1 NP</text></g>
<g id="GEV2_S1R2_NP"><text class="b f GEV2" transform="rotate(44.06) translate(-1043 0) scale(.84 1)">GEV2 S1R2 NP</text></g>
<g id="GEV2_S1R1"><text class="b f GEV2" transform="rotate(45.93) translate(-1043 0) scale(.84 1)">GEV2 S1R1</text></g>
<g id="GEV2_S1R2"><text class="b f GEV2" transform="rotate(47.8) translate(-1043 0) scale(.84 1)">GEV2 S1R2</text></g>
<g id="GEV4_S1R1"><text class="b f GEV4" transform="rotate(49.67) translate(-1043 0) scale(.84 1)">GEV4 S1R1</text></g>
<g id="GEV4_S1R2_NP"><text class="b f GEV4" transform="rotate(51.54) translate(-1043 0) scale(.84 1)">GEV4 S1R2 NP</text></g>
<g id="GEV4_S1R1_NP"><text class="b f GEV4" transform="rotate(53.41) translate(-1043 0) scale(.84 1)">GEV4 S1R1 NP</text></g>
<g id="GEV4_S1R2"><text class="b f GEV4" transform="rotate(55.28) translate(-1043 0) scale(.84 1)">GEV4 S1R2</text></g>
<g id="GEV5_S1R2_NP"><text class="b f GEV5" transform="rotate(57.15) translate(-1043 0) scale(.84 1)">GEV5 S1R2 NP</text></g>
<g id="GEV5_S1R1_NP"><text class="b f GEV5" transform="rotate(59.02) translate(-1043 0) scale(.84 1)">GEV5 S1R1 NP</text></g>
<g id="GEV5_S1R2"><text class="b f GEV5" transform="rotate(60.89) translate(-1043 0) scale(.84 1)">GEV5 S1R2</text></g>
<g id="GEV5_S1R1"><text class="b f GEV5" transform="rotate(62.76) translate(-1043 0) scale(.84 1)">GEV5 S1R1</text></g>
<g id="GEV1_Sanger"><text class="b f GEV1" transform="rotate(64.63) translate(-1043 0) scale(.84 1)">GEV1 Sanger</text></g>
<g id="GEV2_Sanger"><text class="b f GEV2" transform="rotate(66.5) translate(-1043 0) scale(.84 1)">GEV2 Sanger</text></g>
<g id="GEV4_Sanger"><text class="b f GEV4" transform="rotate(68.37) translate(-1043 0) scale(.84 1)">GEV4 Sanger</text></g>
</g>
</g>
<g id="HPV"><text class="b f" transform="translate(912 110) scale(.84 1)">AJ237885.1 HPV</text></g>
<g id="bootstrap">
<text class="bs" x="1495" y="333" transform="rotate(-90 1495 333)">86</text>
<text class="bs" x="1883" y="434" transform="rotate(-63 1883 434)">62</text>
<text class="bs" x="1915" y="455" transform="rotate(-63 1915 455)">94</text>
<text class="bs" x="2314" y="756" transform="rotate(-40 2314 756)">60</text>
<text class="bs" x="2337" y="870" transform="rotate(-33 2337 870)">61</text>
<text class="bs" x="2330" y="1492">98</text>
<text class="bs" x="3040" y="1320" transform="rotate(-5 3040 1320)">90</text>
<text class="bs" x="3034" y="1449" transform="rotate(-3 3034 1449)">99</text>
<text class="bs" x="2974" y="1670" transform="rotate(7 2974 1670)">95</text>
<text class="bs" x="2900" y="1836" transform="rotate(13 2900 1836)">99</text>
<text class="bs" x="2893" y="2085" transform="rotate(20 2893 2085)">99</text>
<text class="bs" x="2862" y="2494" transform="rotate(33 2862 2494)">100</text>
<text class="bs" x="2323" y="2179" transform="rotate(35 2323 2179)">63</text>
<text class="bs" x="2414" y="2602" transform="rotate(-134 2414 2602)">99</text>
<text class="bs" x="2014" y="2450" transform="rotate(-123 2014 2450)">82</text>
<text class="bs" x="1927" y="2498" transform="rotate(-118 1927 2498)">83</text>
<text class="bs" x="1650" y="2602" transform="rotate(-102 1650 2602)">69</text>
<text class="bs" x="1214" y="2579" transform="rotate(-77.8 1214 2579)">99</text>
<text class="bs" x="1107" y="2184" transform="rotate(-68.2 1107 2184)">98</text>
<text class="bs" x="871" y="2340" transform="rotate(-55 871 2340)">96</text>
<text class="bs" x="835" y="2212" transform="rotate(-48.6 835 2212)">96</text>
<text class="bs" x="687" y="2118" transform="rotate(-42 687 2118)">93</text>
<text class="bs" x="392" y="2113" transform="rotate(-28.8 392 2113)">99</text>
<text class="bs" x="725" y="1817" transform="rotate(-26 725 1817)">81</text>
<text class="bs" x="561" y="1554" transform="rotate(-4 561 1554)">71</text>
<text class="bs" x="428" y="1591" transform="rotate(-4 428 1591)">80</text>
<text class="bs" x="503" y="1143" transform="rotate(20 503 1143)">96</text>
<text class="bs" x="710" y="806" transform="rotate(45 710 806)">93</text>
</g>
<g id="scalebar">
<path d="M1513 590H1534V900H1513" fill="none" stroke="#000" stroke-width="5"/>
<text x="1524" y="754" font-size="37" text-anchor="end" fill="#000">0.5</text>
</g>
</svg>
